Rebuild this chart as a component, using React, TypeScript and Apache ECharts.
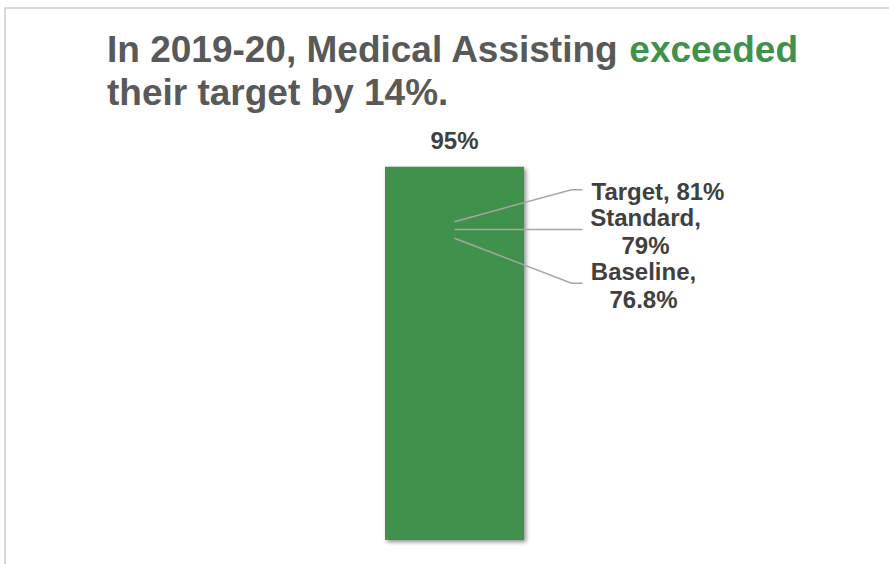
import React, { useEffect, useRef } from "react";
import * as echarts from "echarts";

const categories = ["2019-20"];
const actualValues = [95];
const refNames = ["Target", "Standard", "Baseline"];
const refValues = [81, 79, 76.8];
const refLabels = ["Target, 81%", "Standard,\n79%", "Baseline,\n76.8%"];

const FONT = "'Liberation Sans', Arial, Helvetica, sans-serif";

// layout styles for leader lines (pixel offsets from the data point)
const elbowDy = [-32, 0, 45];
const labelDx = [9, 63, 61];
const labelAlign = ["left", "center", "center"];

export default function App() {
  const ref = useRef<HTMLDivElement>(null);
  useEffect(() => {
    if (!ref.current) return;
    const chart = echarts.init(ref.current, null, { renderer: "svg" });
    const option: any = {
      animation: false,
      backgroundColor: "#ffffff",
      title: {
        text: "In 2019-20, Medical Assisting {g|exceeded}\ntheir target by 14%.",
        left: 107,
        top: 28,
        padding: 0,
        textStyle: {
          fontSize: 37,
          fontWeight: "bold",
          color: "#595959",
          lineHeight: 43,
          fontFamily: FONT,
          rich: {
            g: {
              color: "#40914b",
              fontSize: 37,
              fontWeight: "bold",
              lineHeight: 43,
              fontFamily: FONT,
            },
          },
        },
      },
      graphic: [
        {
          type: "rect",
          silent: true,
          z: -10,
          shape: { x: 5, y: 8, width: 1200, height: 1000 },
          style: { fill: "none", stroke: "#d9d9d9", lineWidth: 2 },
        },
      ],
      grid: { left: 100, right: 80, top: 147, bottom: 24 },
      xAxis: { type: "category", data: categories, show: false },
      yAxis: { type: "value", min: 0, max: 100, show: false },
      series: [
        {
          type: "bar",
          data: actualValues,
          barWidth: 139,
          itemStyle: {
            color: "#40914b",
            shadowColor: "rgba(0,0,0,0.45)",
            shadowBlur: 4,
            shadowOffsetX: 2,
            shadowOffsetY: 2,
          },
          label: {
            show: true,
            position: "top",
            distance: 14,
            formatter: "{c}%",
            fontSize: 24,
            fontWeight: "bold",
            color: "#404040",
            fontFamily: FONT,
          },
        },
        {
          type: "custom",
          name: "Reference",
          z: 5,
          data: refValues.map((v, i) => ({ name: refNames[i], value: [0, v] })),
          renderItem: (params: any, api: any) => {
            const i = params.dataIndex;
            const p = api.coord([api.value(0), api.value(1)]);
            const sx = p[0];
            const sy = p[1];
            const ey = sy + elbowDy[i];
            return {
              type: "group",
              children: [
                {
                  type: "polyline",
                  shape: {
                    points: [
                      [sx, sy],
                      [sx + 117, ey],
                      [sx + 128, ey],
                    ],
                  },
                  style: { stroke: "#a6a6a6", lineWidth: 1.5, fill: "none" },
                },
                {
                  type: "text",
                  style: {
                    text: refLabels[i],
                    x: sx + 128 + labelDx[i],
                    y: ey + 2,
                    align: labelAlign[i],
                    verticalAlign: "middle",
                    fill: "#404040",
                    fontSize: 24,
                    fontWeight: "bold",
                    fontFamily: FONT,
                    lineHeight: 28,
                  },
                },
              ],
            };
          },
        },
      ],
    };
    chart.setOption(option);
    return () => chart.dispose();
  }, []);
  return (
    <div
      ref={ref}
      style={{ position: "fixed", left: 0, top: 0, width: 889, height: 564 }}
    />
  );
}
